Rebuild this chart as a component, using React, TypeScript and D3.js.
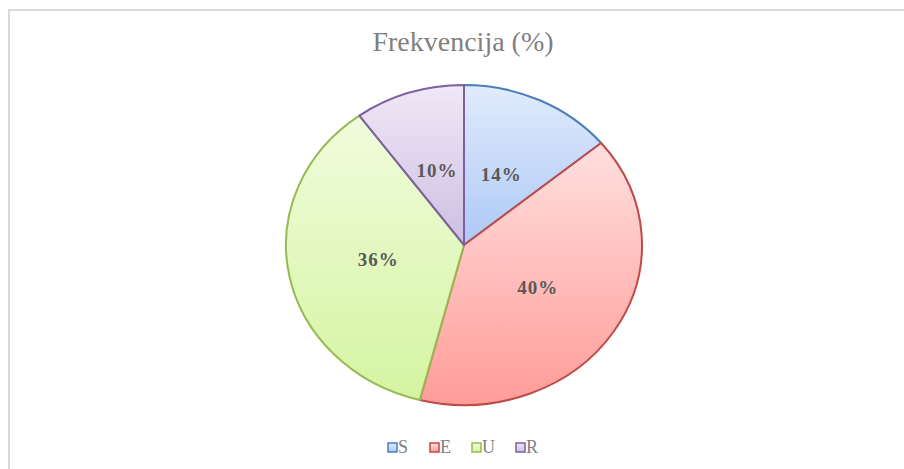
import React, { useEffect, useRef } from 'react';
import * as d3 from 'd3';

// chart data
const categories = ['S', 'E', 'U', 'R'];
const values = [14, 40, 36, 10];
const chartTitle = 'Frekvencija (%)';

const W = 904;
const H = 469;

const strokeColors = ['#4a7ebb', '#be4b48', '#98b954', '#7d60a0'];
const topColors = ['#e1ebfc', '#ffe0df', '#f0fcdd', '#efe8f6'];
const bottomColors = ['#adc9f6', '#ff9c98', '#d5f4a1', '#cdbfe3'];

const serif = 'Liberation Serif, Times New Roman, serif';

export default function App() {
  const ref = useRef<SVGSVGElement>(null);

  useEffect(() => {
    const svg = d3.select(ref.current);
    svg.selectAll('*').remove();

    const defs = svg.append('defs');
    categories.forEach((c, i) => {
      const g = defs.append('linearGradient')
        .attr('id', 'grad' + i)
        .attr('x1', 0).attr('y1', 0).attr('x2', 0).attr('y2', 1);
      g.append('stop').attr('offset', '0%').attr('stop-color', topColors[i]);
      g.append('stop').attr('offset', '100%').attr('stop-color', bottomColors[i]);
    });

    // chart area border
    svg.append('rect')
      .attr('x', 9).attr('y', 10)
      .attr('width', 1000).attr('height', 1000)
      .attr('fill', '#fff')
      .attr('stroke', '#d9d9d9')
      .attr('stroke-width', 2);

    svg.append('text')
      .attr('x', 463).attr('y', 51)
      .attr('text-anchor', 'middle')
      .attr('font-family', serif)
      .attr('font-size', 28)
      .attr('fill', '#7f7f7f')
      .text(chartTitle);

    const cx = 464, cy = 245;
    const rx = 178, ry = 160;

    const pie = d3.pie<number>().sort(null).value(d => d);
    const arcs = pie(values);
    const arc = d3.arc<d3.PieArcDatum<number>>().innerRadius(0).outerRadius(ry);

    const g = svg.append('g')
      .attr('transform', `translate(${cx},${cy}) scale(${rx / ry},1)`);

    g.selectAll('path')
      .data(arcs)
      .enter().append('path')
      .attr('d', arc)
      .attr('fill', (d, i) => `url(#grad${i})`)
      .attr('stroke', (d, i) => strokeColors[i])
      .attr('stroke-width', 2)
      .attr('stroke-linejoin', 'round')
      .attr('vector-effect', 'non-scaling-stroke');

    // labels at the mid angle, about half the radius out
    const labelFrac = 0.49;
    arcs.forEach((d, i) => {
      const a = (d.startAngle + d.endAngle) / 2;
      const x = cx + Math.sin(a) * rx * labelFrac;
      const y = cy - Math.cos(a) * ry * labelFrac;
      svg.append('text')
        .attr('x', x).attr('y', y)
        .attr('dy', '0.35em')
        .attr('text-anchor', 'middle')
        .attr('font-family', serif)
        .attr('font-size', 19)
        .attr('font-weight', 'bold')
        .attr('letter-spacing', 1)
        .attr('fill', '#595959')
        .text(d3.format('d')(values[i]) + '%');
    });

    // legend
    const legendX = [388, 430, 472, 516];
    const legend = svg.append('g');
    categories.forEach((c, i) => {
      legend.append('rect')
        .attr('x', legendX[i]).attr('y', 443)
        .attr('width', 9).attr('height', 9)
        .attr('fill', `url(#grad${i})`)
        .attr('stroke', strokeColors[i])
        .attr('stroke-width', 1.5);
      legend.append('text')
        .attr('x', legendX[i] + 10).attr('y', 453)
        .attr('font-family', serif)
        .attr('font-size', 18)
        .attr('fill', '#7f7f7f')
        .text(c);
    });
  }, []);

  return (
    <svg ref={ref} width={W} height={H}
      style={{ position: 'absolute', left: 0, top: 0, background: '#fff' }} />
  );
}
